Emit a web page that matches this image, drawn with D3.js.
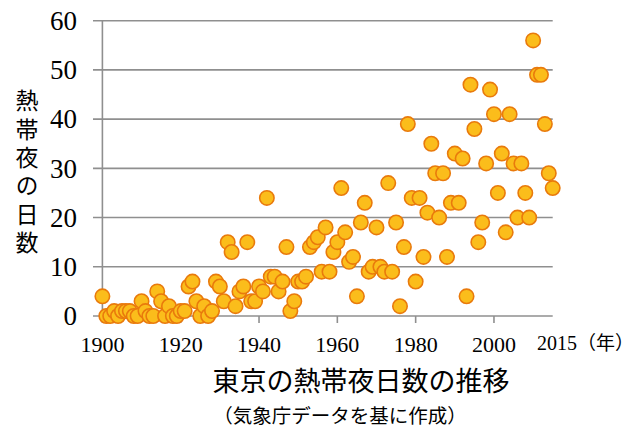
<!DOCTYPE html>
<html lang="ja">
<head>
<meta charset="utf-8">
<title>東京の熱帯夜日数の推移</title>
<style>
  body { margin: 0; background: #fff; }
  .grid line { stroke: #8f8f8f; stroke-width: 1.6; }
  .num { font-family: "Liberation Serif", "DejaVu Serif", serif; fill: #000; }
  .jp { font-family: "Noto Sans CJK JP", "Noto Sans", sans-serif; fill: #000; }
  .dot { fill: #fbbd1b; stroke: #e97a0c; stroke-width: 1.6; }
</style>
</head>
<body>
<div id="chart"></div>
<script src="https://cdn.jsdelivr.net/npm/d3@7"></script>
<script>

var width = 638, height = 428;

// years, 1900-2015
var years = [
  1900,1901,1902,1903,1904,1905,1906,1907,1908,1909,
  1910,1911,1912,1913,1914,1915,1916,1917,1918,1919,
  1920,1921,1922,1923,1924,1925,1926,1927,1928,1929,
  1930,1931,1932,1933,1934,1935,1936,1937,1938,1939,
  1940,1941,1942,1943,1944,1945,1946,1947,1948,1949,
  1950,1951,1952,1953,1954,1955,1956,1957,1958,1959,
  1960,1961,1962,1963,1964,1965,1966,1967,1968,1969,
  1970,1971,1972,1973,1974,1975,1976,1977,1978,1979,
  1980,1981,1982,1983,1984,1985,1986,1987,1988,1989,
  1990,1991,1992,1993,1994,1995,1996,1997,1998,1999,
  2000,2001,2002,2003,2004,2005,2006,2007,2008,2009,
  2010,2011,2012,2013,2014,2015
];

// tropical nights per year
var nights = [
  4,0,0,1,0,1,1,1,0,0,
  3,1,0,0,5,3,0,2,0,0,
  1,1,6,7,3,0,2,0,1,7,
  6,3,15,13,2,5,6,15,3,3,
  6,5,24,8,8,5,7,14,1,3,
  7,7,8,14,15,16,9,18,9,13,
  15,26,17,11,12,4,19,23,9,10,
  18,10,9,27,9,19,2,14,39,24,
  7,24,12,21,35,29,20,29,12,23,
  33,23,32,4,47,38,15,19,31,46,
  41,25,33,17,41,31,20,31,25,20,
  56,49,49,39,29,26
];

var yTicks = [0, 10, 20, 30, 40, 50, 60];
var xTicks = [1900, 1920, 1940, 1960, 1980, 2000];
var yTitle = "熱帯夜の日数";
var title = "東京の熱帯夜日数の推移";
var subtitle = "（気象庁データを基に作成）";

var data = years.map(function(y, i){ return {year: y, n: nights[i]}; });

var x = d3.scaleLinear().domain([1900, 2015]).range([102.4, 552.7]);
var y = d3.scaleLinear().domain([0, 60]).range([316, 20.7]);

var svg = d3.select("#chart").append("svg")
    .attr("width", width)
    .attr("height", height);

// horizontal grid + y ticks
var grid = svg.append("g").attr("class", "grid");
grid.selectAll(".h").data(yTicks).enter().append("line")
    .attr("x1", 93).attr("x2", x(2015))
    .attr("y1", function(d){ return y(d); })
    .attr("y2", function(d){ return y(d); });

// y axis line
grid.append("line")
    .attr("x1", x(1900)).attr("x2", x(1900))
    .attr("y1", y(60)).attr("y2", y(0) + 7);

// x ticks
grid.selectAll(".xt").data(xTicks.slice(1)).enter().append("line")
    .attr("x1", function(d){ return x(d); })
    .attr("x2", function(d){ return x(d); })
    .attr("y1", y(0)).attr("y2", y(0) + 7);

// y labels
svg.selectAll(".ylab").data(yTicks).enter().append("text")
    .attr("class", "num")
    .attr("x", 77)
    .attr("y", function(d){ return y(d); })
    .attr("dy", "0.34em")
    .attr("text-anchor", "end")
    .style("font-size", "27px")
    .text(function(d){ return d; });

// x labels
svg.selectAll(".xlab").data(xTicks).enter().append("text")
    .attr("class", "num")
    .attr("x", function(d){ return x(d); })
    .attr("y", 352)
    .attr("text-anchor", "middle")
    .style("font-size", "22px")
    .text(function(d){ return d; });

var end = svg.append("text")
    .attr("x", 537).attr("y", 350);
end.append("tspan").attr("class", "num").style("font-size", "20px").text("2015");
end.append("tspan").attr("class", "jp").style("font-size", "19px").text("（年）");

// y title, written vertically
svg.append("text")
    .attr("class", "jp")
    .attr("x", 27)
    .attr("y", 89)
    .style("writing-mode", "vertical-rl")
    .style("text-orientation", "upright")
    .style("letter-spacing", "5.4px")
    .style("font-size", "23px")
    .text(yTitle);

// points
svg.append("g").selectAll("circle").data(data).enter().append("circle")
    .attr("class", "dot")
    .attr("cx", function(d){ return x(d.year); })
    .attr("cy", function(d){ return y(d.n); })
    .attr("r", 7.2);

svg.append("text")
    .attr("class", "jp")
    .attr("x", 361).attr("y", 391)
    .attr("text-anchor", "middle")
    .style("font-size", "27px")
    .text(title);

svg.append("text")
    .attr("class", "jp")
    .attr("x", 340).attr("y", 422.5)
    .attr("text-anchor", "middle")
    .style("font-size", "19.5px")
    .text(subtitle);

</script>
</body>
</html>
